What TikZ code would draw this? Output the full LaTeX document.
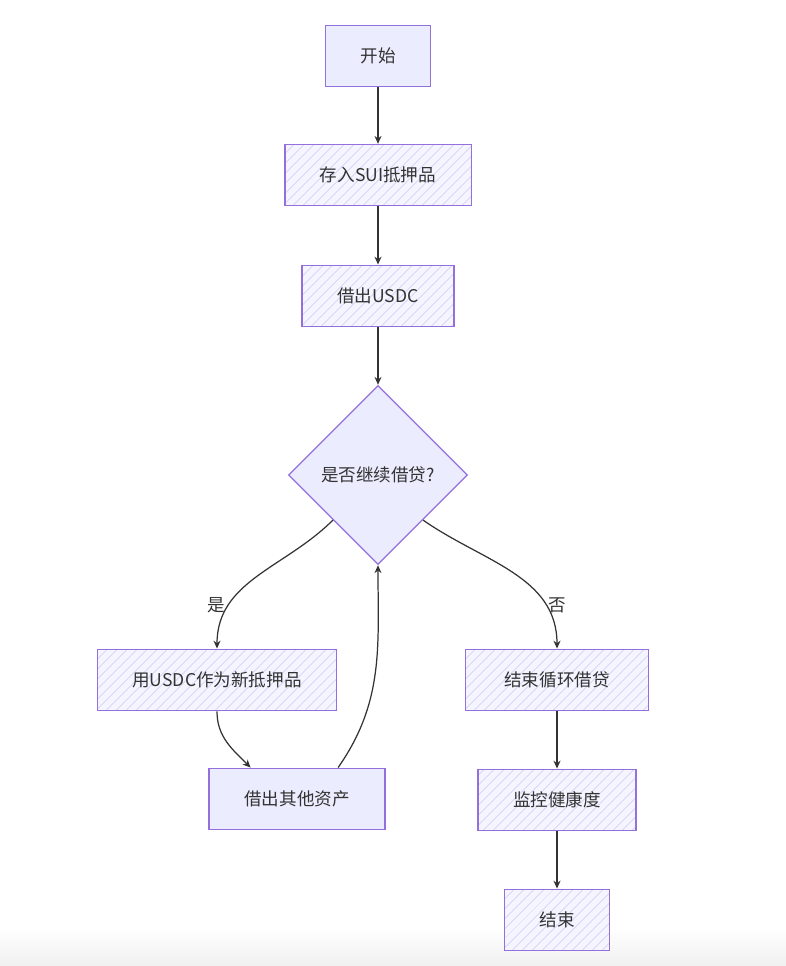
\documentclass[tikz,border=0pt]{standalone}
\usepackage{fontspec}
\setmainfont{Noto Sans CJK SC}
\usetikzlibrary{arrows.meta, positioning, shapes.geometric, patterns.meta}
\definecolor{mfill}{HTML}{ECECFF}
\definecolor{mborder}{HTML}{9370DB}
\definecolor{mhatch}{HTML}{D9D3F7}
\definecolor{mtext}{HTML}{333333}
\tikzset{
  hbox/.style={draw=mborder, line width=0.8pt, preaction={fill=mfill!55},
               pattern={Lines[angle=45, distance=4pt, line width=0.5pt]}, pattern color=mhatch,
               minimum height=35pt, inner xsep=20pt, text=mtext},
  sbox/.style={draw=mborder, line width=0.8pt, fill=mfill,
               minimum height=35pt, inner xsep=20pt, text=mtext},
  dbox/.style={diamond, aspect=1, draw=mborder, line width=0.7pt, fill=mfill,
               inner sep=0pt, minimum size=102pt, text=mtext},
  lbl/.style={text=mtext},
  arr/.style={-{Stealth[length=4.5pt, width=4pt]}, mtext, line width=0.7pt},
}

\begin{document}
\begin{tikzpicture}[every node/.style={font=\fontsize{10}{12}\selectfont}, x=0.02cm, y=-0.02cm]
  \useasboundingbox (0,0) rectangle (786,966);
  \shade[top color=white, bottom color=black!6] (0,928) rectangle (786,966);

  \node[sbox] (start) at (378, 56) {开始};
  \node[hbox] (deposit) at (378, 175) {存入SUI抵押品};
  \node[hbox] (borrow) at (378, 296) {借出USDC};
  \node[dbox] (again) at (378, 475) {是否继续借贷?};

  \node[hbox] (reuse) at (217, 680) {用USDC作为新抵押品};
  \node[sbox] (other) at (297, 799) {借出其他资产};

  \node[hbox, inner xsep=22pt] (stop) at (557, 680) {结束循环借贷};
  \node[hbox] (monitor) at (557, 800) {监控健康度};
  \node[hbox] (finish) at (557, 920) {结束};

  \node[lbl] (yes) at (216, 605) {是};
  \node[lbl] (no) at (557, 605) {否};

  \draw[arr] (start) -- (deposit);
  \draw[arr] (deposit) -- (borrow);
  \draw[arr] (borrow) -- (again);
  \draw[arr] (again.south west) to[out=-135, in=90] (reuse.north);
  \draw[arr] (again.south east) to[out=-35, in=90] (stop.north);
  \draw[arr] (reuse.south) to[out=-90, in=135] ([xshift=24pt]other.north west);
  \draw[arr] ([xshift=-27pt]other.north east) to[out=55, in=-90] (again.south);
  \draw[arr] (stop) -- (monitor);
  \draw[arr] (monitor) -- (finish);
\end{tikzpicture}
\end{document}
